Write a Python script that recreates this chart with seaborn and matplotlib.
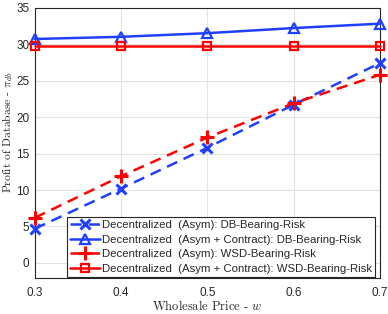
#!/usr/bin/env python3
"""
Database profit vs wholesale price, decentralized (asym) cases.
"""

import matplotlib
matplotlib.use('Agg')
import matplotlib.pyplot as plt
import seaborn as sns
import pandas as pd

# values
wholesale_price = [0.3, 0.4, 0.5, 0.6, 0.7]
asym_db = [4.7, 10.2, 15.8, 21.7, 27.4]
asym_contract_db = [30.7, 31.0, 31.5, 32.2, 32.8]
asym_wsd = [6.2, 11.9, 17.2, 21.9, 25.8]
asym_contract_wsd = [29.8, 29.8, 29.8, 29.8, 29.8]

labels = [
    'Decentralized  (Asym): DB-Bearing-Risk',
    'Decentralized  (Asym + Contract): DB-Bearing-Risk',
    'Decentralized  (Asym): WSD-Bearing-Risk',
    'Decentralized  (Asym + Contract): WSD-Bearing-Risk',
]
x_ticks = [0.3, 0.4, 0.5, 0.6, 0.7]
y_ticks = [0, 5, 10, 15, 20, 25, 30, 35]

sns.set_style('white')
plt.rcParams['font.family'] = ['Liberation Sans', 'DejaVu Sans']
plt.rcParams['mathtext.fontset'] = 'cm'
plt.rcParams['axes.unicode_minus'] = False

blue = '#2040ff'
red = '#ff0000'

fig = plt.figure(figsize=(3.88, 3.14), dpi=100)
ax = fig.add_axes([0.0897, 0.1137, 0.8897, 0.862])

dash = (0, (4.5, 2.8))
series = [
    (asym_db, blue, dash, 'x', 7.5, 2.2),
    (asym_contract_db, blue, '-', '^', 7.5, 1.6),
    (asym_wsd, red, dash, '+', 10, 2.2),
    (asym_contract_wsd, red, '-', 's', 6, 1.6),
]
for (vals, col, ls, mk, ms, mew), lab in zip(series, labels):
    df = pd.DataFrame({'w': wholesale_price, 'profit': vals})
    sns.lineplot(data=df, x='w', y='profit', ax=ax, color=col, linestyle=ls,
                 linewidth=1.8, marker=mk, markersize=ms, markeredgewidth=mew,
                 markerfacecolor='none', markeredgecolor=col, label=lab,
                 clip_on=False, zorder=3)

ax.set_xlim(0.3, 0.7)
ax.set_ylim(-2.1, 35)
ax.set_xticks(x_ticks)
ax.set_xticklabels([f'{v:.1f}' for v in x_ticks])
ax.set_yticks(y_ticks)
ax.grid(True, color='#e3e3e3', linewidth=0.8)
ax.tick_params(axis='both', direction='in', length=3, labelsize=8.5,
               colors='#262626', pad=6)
ax.tick_params(axis='y', pad=4)
for sp in ax.spines.values():
    sp.set_visible(True)
    sp.set_color('#262626')
    sp.set_linewidth(0.8)

ax.set_xlabel('Wholesale Price - $w$', fontfamily='cmr10', fontsize=9,
              labelpad=0)
ax.set_ylabel(r'Profit of Database - $\pi_{db}$', fontfamily='cmr10',
              fontsize=8.4)
ax.yaxis.set_label_coords(-0.057, 0.54)

leg = ax.legend(loc='lower right', bbox_to_anchor=(0.99, 0.0), fontsize=8.2,
                frameon=True, fancybox=False, handlelength=2.6,
                handletextpad=0.2, borderpad=0.3, labelspacing=0.4,
                borderaxespad=0.1)
leg.get_frame().set_edgecolor('#262626')
leg.get_frame().set_linewidth(0.8)
leg.get_frame().set_alpha(1)

fig.savefig('out.png', dpi=100)
plt.close(fig)
